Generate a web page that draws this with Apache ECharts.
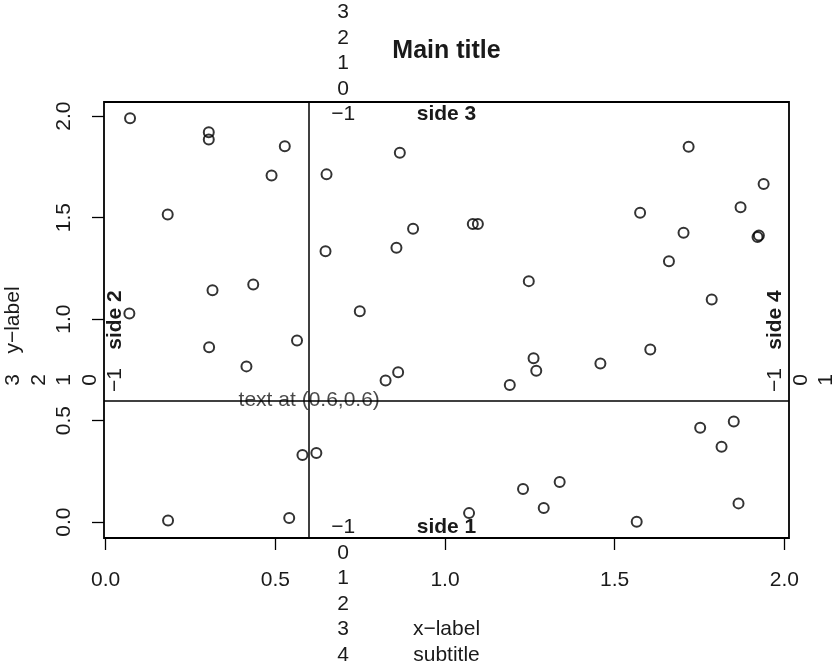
<!DOCTYPE html>
<html>
<head>
<meta charset="utf-8">
<script src="https://cdn.jsdelivr.net/npm/echarts@6/dist/echarts.min.js"></script>
<style>
html,body{margin:0;padding:0;background:#fff;}
#chart{width:837px;height:666px;}
</style>
</head>
<body>
<div id="chart"></div>
<script>
// ---- data ----
const xValues = [0.072,0.304,0.304,0.528,0.489,0.183,0.651,0.867,0.648,0.857,0.906,0.315,0.435,0.749,0.070,
  1.718,1.939,1.871,1.575,1.703,1.925,1.921,1.660,1.786,1.082,1.097,1.247,
  0.305,0.564,0.415,0.825,0.862,0.580,0.621,0.184,0.541,
  1.191,1.261,1.269,1.458,1.605,1.752,1.851,1.815,1.230,1.338,1.291,1.071,1.565,1.865];
const yValues = [1.990,1.921,1.885,1.852,1.708,1.515,1.713,1.820,1.334,1.351,1.445,1.142,1.170,1.039,1.027,
  1.849,1.665,1.551,1.524,1.425,1.412,1.405,1.285,1.096,1.469,1.469,1.187,
  0.861,0.895,0.767,0.698,0.738,0.330,0.340,0.008,0.020,
  0.675,0.807,0.745,0.781,0.850,0.465,0.496,0.371,0.163,0.197,0.069,0.044,0.001,0.092];
const xTicks = [0, 0.5, 1, 1.5, 2];
const yTicks = [0, 0.5, 1, 1.5, 2];
const xTickLabels = ['0.0','0.5','1.0','1.5','2.0'];
const yTickLabels = ['0.0','0.5','1.0','1.5','2.0'];
const refLineX = 0.6, refLineY = 0.6;
const textPoint = [0.6, 0.6];
const textAtLabel = 'text at (0.6,0.6)';
const marginAt = 0.7;
const side1Lines = [-1,0,1,2,3,4];
const side2Lines = [-1,0,1,2,3];
const side3Lines = [-1,0,1,2,3];
const side4Lines = [-1,0,1];
const mainTitle = 'Main title';
const xLabel = 'x\u2212label';
const yLabel = 'y\u2212label';
const subTitle = 'subtitle';
const sideLabels = ['side 1','side 2','side 3','side 4'];

// ---- layout ----
const G = {left:104, top:102, width:685, height:436};
const gRight = G.left + G.width, gBottom = G.top + G.height;
const FONT = 'Liberation Sans, Arial, Helvetica, sans-serif';
const FS = 21, LH = 25.5, COL = '#1a1a1a';

function ext(arr){const mn=Math.min(...arr), mx=Math.max(...arr), d=(mx-mn)*0.04; return [mn-d, mx+d];}
const xr = ext(xValues), yr = ext(yValues);
const numLabel = v => (v < 0 ? '\u2212' + Math.abs(v) : String(v));

const chart = echarts.init(document.getElementById('chart'), null, {renderer:'canvas'});
const option = {
  animation:false,
  grid:{left:G.left, top:G.top, width:G.width, height:G.height, show:true, borderColor:'#000', borderWidth:1.8, backgroundColor:'transparent'},
  xAxis:{type:'value', min:xr[0], max:xr[1], splitLine:{show:false}, axisLine:{show:false, onZero:false},
    axisTick:{show:true, inside:false, length:12, lineStyle:{color:'#000', width:1.3}, customValues:xTicks},
    axisLabel:{show:true, margin:32, fontSize:FS, fontFamily:FONT, color:COL, customValues:xTicks,
      formatter: v => xTickLabels[xTicks.indexOf(+v)] ?? ''}},
  yAxis:{type:'value', min:yr[0], max:yr[1], splitLine:{show:false}, axisLine:{show:false, onZero:false},
    axisTick:{show:true, inside:false, length:12, lineStyle:{color:'#000', width:1.3}, customValues:yTicks},
    axisLabel:{show:true, margin:29, rotate:90, fontSize:FS, fontFamily:FONT, color:COL, customValues:yTicks,
      formatter: v => yTickLabels[yTicks.indexOf(+v)] ?? ''}},
  series:[
    {type:'scatter', data:xValues.map((x,i)=>[x,yValues[i]]), symbol:'circle', symbolSize:10,
     itemStyle:{color:'rgba(0,0,0,0)', borderColor:'#000', borderWidth:2}, silent:true,
     markLine:{silent:true, symbol:['none','none'], label:{show:false},
       lineStyle:{color:'#000', type:'solid', width:1.5},
       data:[{xAxis:refLineX},{yAxis:refLineY}]}},
    {type:'scatter', data:[textPoint], symbolSize:1, itemStyle:{color:'rgba(0,0,0,0)'}, silent:true,
     label:{show:true, position:'inside', formatter:textAtLabel, fontSize:FS, fontFamily:FONT, color:COL}}
  ]
};
chart.setOption(option);

// ---- margin texts ----
const atX = chart.convertToPixel({gridIndex:0}, [marginAt, 0])[0];
const atY = chart.convertToPixel({gridIndex:0}, [0, marginAt])[1];
const cx = G.left + G.width/2, cy = G.top + G.height/2;
const els = [];
function txt(text, x, y, bold, rot, size){
  els.push({type:'text', x:x, y:y, rotation:rot||0, silent:true,
    style:{text:text, x:0, y:0, align:'center', verticalAlign:'middle', fontSize:size||FS,
      fontFamily:FONT, fontWeight:bold?'bold':'normal', fill:COL}});
}
const y1 = L => gBottom + 15 + LH*L;
const y3 = L => G.top - 13 - LH*L;
const x2 = L => G.left - 14 - LH*L;
const x4 = L => gRight + 12 + LH*L;
side1Lines.forEach(L => txt(numLabel(L), atX, y1(L)));
side3Lines.forEach(L => txt(numLabel(L), atX, y3(L)));
side2Lines.forEach(L => txt(numLabel(L), x2(L), atY, false, Math.PI/2));
side4Lines.forEach(L => txt(numLabel(L), x4(L), atY, false, Math.PI/2));
txt(sideLabels[0], cx, y1(-1), true);
txt(sideLabels[2], cx, y3(-1), true);
txt(sideLabels[1], x2(-1), cy, true, Math.PI/2);
txt(sideLabels[3], x4(-1), cy, true, Math.PI/2);
txt(xLabel, cx, y1(3));
txt(subTitle, cx, y1(4));
txt(yLabel, x2(3), cy, false, Math.PI/2);
txt(mainTitle, cx, 51, true, 0, 25);
chart.setOption({graphic:{elements:els}});
</script>
</body>
</html>
